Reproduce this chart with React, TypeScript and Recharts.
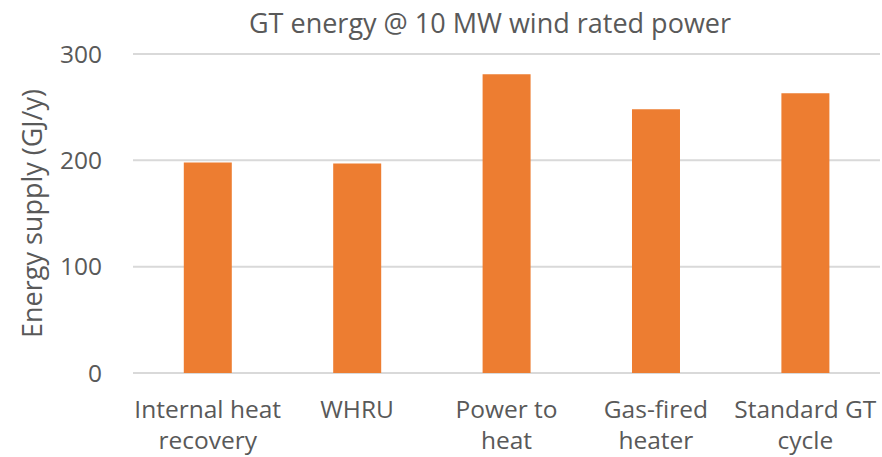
import { BarChart, Bar, XAxis, YAxis, CartesianGrid, Label } from "recharts";

const categories = [
  "Internal heat recovery",
  "WHRU",
  "Power to heat",
  "Gas-fired heater",
  "Standard GT cycle",
];
const tickLines = [
  ["Internal heat", "recovery"],
  ["WHRU"],
  ["Power to", "heat"],
  ["Gas-fired", "heater"],
  ["Standard GT", "cycle"],
];
const energySupply = [198, 197, 281, 248, 263];
const yTicks = [0, 100, 200, 300];

const TEXT = "#595959";
const FONT = "'Open Sans', sans-serif";

const data = categories.map((name, i) => ({ name, value: energySupply[i], idx: i }));

const CategoryTick = (props: any) => {
  const { x, y, index } = props;
  const lines = tickLines[index] || [];
  return (
    <g>
      {lines.map((line, i) => (
        <text
          key={i}
          x={x}
          y={y + 37 + i * 31}
          textAnchor="middle"
          fill={TEXT}
          fontSize={24.5}
          fontFamily={FONT}
        >
          {line}
        </text>
      ))}
    </g>
  );
};

export default function App() {
  return (
    <div style={{ position: "absolute", left: 0, top: 0, width: 882, height: 457, background: "#fff" }}>
      <div
        style={{
          position: "absolute",
          top: 4,
          left: 0,
          width: 980,
          textAlign: "center",
          fontFamily: FONT,
          fontSize: 27,
          color: TEXT,
          whiteSpace: "nowrap",
        }}
      >
        GT energy @ 10 MW wind rated power
      </div>
      <BarChart
        width={882}
        height={457}
        data={data}
        margin={{ top: 54, right: 2, bottom: 0, left: 0 }}
        barCategoryGap="34%"
      >
        <CartesianGrid horizontal vertical={false} stroke="#D9D9D9" strokeWidth={2} />
        <XAxis
          dataKey="name"
          axisLine={false}
          tickLine={false}
          height={84}
          interval={0}
          tick={<CategoryTick />}
        />
        <YAxis
          width={133}
          domain={[0, 300]}
          ticks={yTicks}
          axisLine={false}
          tickLine={false}
          tickMargin={25}
          tick={{ fill: TEXT, fontSize: 24.5, fontFamily: FONT }}
        >
          <Label
            value="Energy supply (GJ/y)"
            angle={-90}
            position="center"
            dx={-34}
            fill={TEXT}
            fontSize={27}
            fontFamily={FONT}
          />
        </YAxis>
        <Bar dataKey="value" fill="#ED7D31" isAnimationActive={false} />
      </BarChart>
    </div>
  );
}
